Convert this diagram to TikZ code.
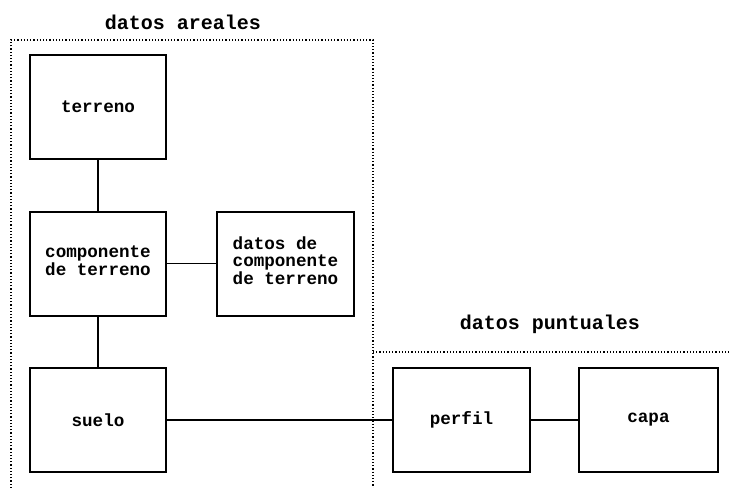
\documentclass[tikz,border=0pt]{standalone}
\usepackage{fontspec}
\setmonofont{Liberation Mono}
\usetikzlibrary{positioning}

\tikzset{
  caja/.style={draw, line width=1pt, minimum width=68pt, minimum height=52pt,
    inner sep=0pt, font=\ttfamily\bfseries\fontsize{8.8}{8.6}\selectfont},
  titulo/.style={font=\ttfamily\bfseries\fontsize{10}{10}\selectfont},
  enlace/.style={line width=0.75pt},
  zona/.style={densely dotted, line width=0.6pt}
}

\begin{document}
\begin{tikzpicture}[x=0.5pt,y=-0.5pt]
  \useasboundingbox (0,0) rectangle (730,488);
  % datos areales
  \node[titulo] (tareal) at (183,22) {datos areales};
  \draw[zona] (11,488) -- (11,40) -- (373,40) -- (373,488);
  \node[caja] (terreno) at (98,107) {terreno};
  \node[caja] (comp) at (98,263.5) {\begin{tabular}{@{}c@{}}componente\\de terreno\end{tabular}};
  \node[caja, minimum width=68.5pt] (datcomp) at (285.5,263.5)
    {\begin{tabular}{@{}l@{}}datos de\\componente\\de terreno\end{tabular}};
  \node[caja] (suelo) at (98,420) {suelo};
  % datos puntuales
  \node[titulo] (tpunt) at (550,324) {datos puntuales};
  \draw[zona] (373,352) -- (730,352);
  \node[caja, minimum width=68.5pt] (perfil) at (461.5,420) {perfil};
  \node[caja, minimum width=69.5pt] (capa) at (648.5,420) {capa};
  % enlaces
  \draw[enlace] (terreno) -- (comp);
  \draw[enlace] (comp) -- (datcomp);
  \draw[enlace] (comp) -- (suelo);
  \draw[enlace] (suelo) -- (perfil);
  \draw[enlace] (perfil) -- (capa);
\end{tikzpicture}
\end{document}
